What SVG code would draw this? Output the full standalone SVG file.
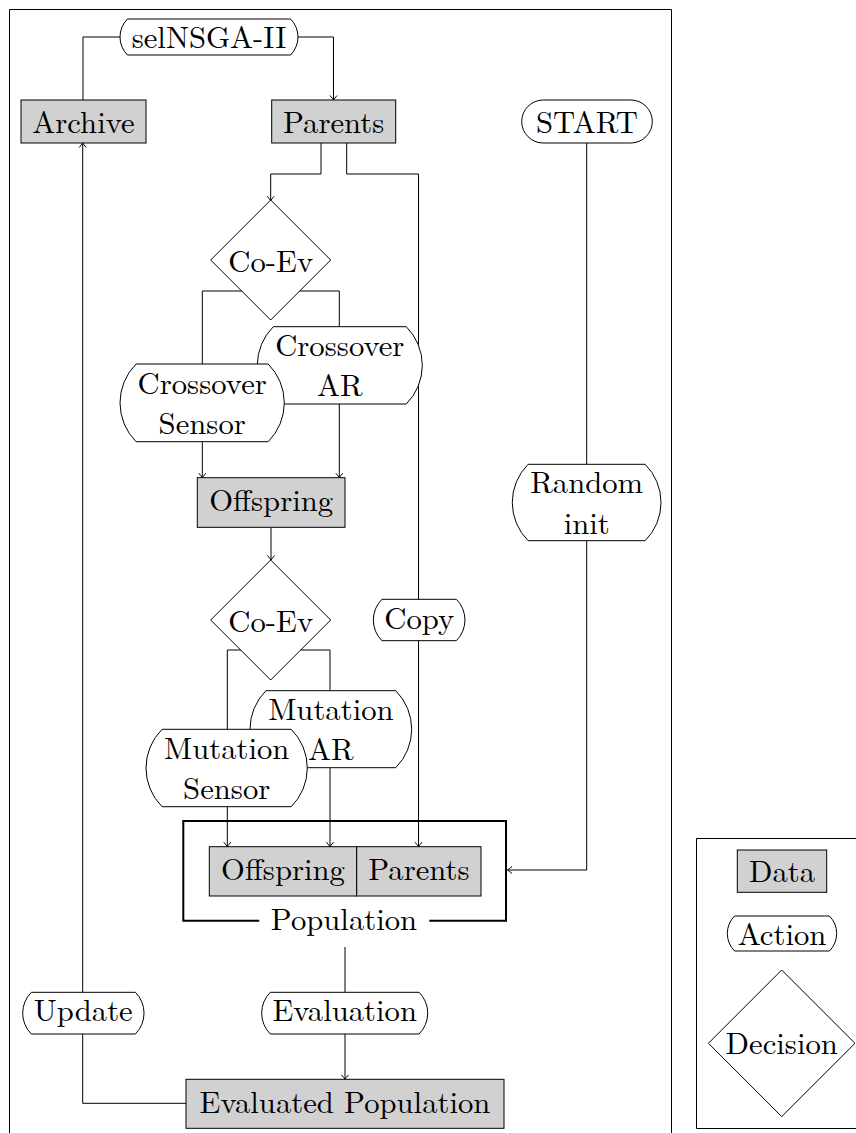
<svg xmlns="http://www.w3.org/2000/svg" width="856" height="1133" viewBox="0 0 856 1133" font-family="Latin Modern Roman, Liberation Serif, serif" font-size="30.7">
<style>
text{fill:#000;text-anchor:middle}
.data{fill:#d1d1d1;stroke:#000;stroke-width:1}
.act{fill:#fff;stroke:#000;stroke-width:1}
.con{fill:none;stroke:#000;stroke-width:1}
.frame{fill:none;stroke:#000;stroke-width:1}
</style>
<defs>
<marker id="arr" viewBox="-6 -5 8 10" markerWidth="8" markerHeight="10" refX="0" refY="0" orient="auto" markerUnits="userSpaceOnUse">
<path d="M-4.5,-3.5 Q-1.5,-1 0,0 Q-1.5,1 -4.5,3.5" fill="none" stroke="#000" stroke-width="1"/>
</marker>
</defs>
<g id="frames">
<path class="frame" d="M9.5,1140 V9.5 H671.5 V1140"/>
<path class="frame" d="M870,838.5 H696.5 V1128.5 H870"/>
</g>
<g id="connectors">
<path class="con" d="M120,37 H83 V100"/>
<path class="con" d="M298,37 H333.5 V100" marker-end="url(#arr)"/>
<path class="con" d="M321,143 V174 H270.7 V200.7" marker-end="url(#arr)"/>
<path class="con" d="M346.7,143 V174 H418.5 V846.7" marker-end="url(#arr)"/>
<path class="con" d="M202.3,364 V291 H339.3 V326.7"/>
<path class="con" d="M202.3,441.7 V477.7" marker-end="url(#arr)"/>
<path class="con" d="M339.3,404 V477.7" marker-end="url(#arr)"/>
<path class="con" d="M271,527.3 V560" marker-end="url(#arr)"/>
<path class="con" d="M227.3,729.3 V650 H330 V690.7"/>
<path class="con" d="M227.3,806.7 V846.7" marker-end="url(#arr)"/>
<path class="con" d="M330,767.7 V846.7" marker-end="url(#arr)"/>
<path class="con" d="M586.7,143 V464.3"/>
<path class="con" d="M586.7,540.7 V870 H507.5" marker-end="url(#arr)"/>
<path class="con" d="M345,947 V992.3"/>
<path class="con" d="M345,1034 V1079.3" marker-end="url(#arr)"/>
<path class="con" d="M186,1103.3 H82.7 V1034"/>
<path class="con" d="M82.7,992.3 V143" marker-end="url(#arr)"/>
</g>
<g id="selNSGA">
<path class="act" d="M127.46,19 H290.54 A25.46 25.46 0 0 1 290.54,55 H127.46 A25.46 25.46 0 0 1 127.46,19 Z"/>
<text x="209" y="48.3">selNSGA-II</text>
</g>
<g id="archive">
<rect class="data" x="21" y="100" width="125" height="43"/>
<text x="83.5" y="133">Archive</text>
</g>
<g id="parents">
<rect class="data" x="271.7" y="100" width="124" height="43"/>
<text x="333.7" y="133">Parents</text>
</g>
<g id="start">
<rect class="act" x="521.7" y="100" width="130.6" height="43" rx="21.5" ry="21.5"/>
<text x="587" y="132.5">START</text>
</g>
<g id="coev1">
<path class="act" d="M270.7,200 L330.7,260 L270.7,320 L210.7,260 Z"/>
<text x="270.7" y="271.5">Co-Ev</text>
</g>
<g id="crossoverAR">
<path class="act" d="M273.3,326.7 H406.3 A54.66 54.66 0 0 1 406.3,404 H273.3 A54.66 54.66 0 0 1 273.3,326.7 Z"/>
<text x="339.8" y="356.3">Crossover</text>
<text x="339.8" y="396.3">AR</text>
</g>
<g id="crossoverSensor">
<path class="act" d="M136.1,364 H268.2 A54.94 54.94 0 0 1 268.2,441.7 H136.1 A54.94 54.94 0 0 1 136.1,364 Z"/>
<text x="202.2" y="394">Crossover</text>
<text x="202.2" y="434">Sensor</text>
</g>
<g id="offspring">
<rect class="data" x="197.3" y="477.7" width="147.7" height="49.6"/>
<text x="271.2" y="511">Offspring</text>
</g>
<g id="randomInit">
<path class="act" d="M528.1,464.3 H645.2 A54.02 54.02 0 0 1 645.2,540.7 H528.1 A54.02 54.02 0 0 1 528.1,464.3 Z"/>
<text x="586.7" y="493">Random</text>
<text x="586.7" y="534">init</text>
</g>
<g id="coev2">
<path class="act" d="M270.7,560 L330.7,620 L270.7,680 L210.7,620 Z"/>
<text x="270.7" y="631.5">Co-Ev</text>
</g>
<g id="copy">
<path class="act" d="M381.9,599.3 H456.4 A29.27 29.27 0 0 1 456.4,640.7 H381.9 A29.27 29.27 0 0 1 381.9,599.3 Z"/>
<text x="419.2" y="628.5">Copy</text>
</g>
<g id="mutationAR">
<path class="act" d="M265.95,690.7 H395.75 A54.45 54.45 0 0 1 395.75,767.7 H265.95 A54.45 54.45 0 0 1 265.95,690.7 Z"/>
<text x="330.9" y="720">Mutation</text>
<text x="330.9" y="760">AR</text>
</g>
<g id="mutationSensor">
<path class="act" d="M162.03,729.3 H291.27 A54.73 54.73 0 0 1 291.27,806.7 H162.03 A54.73 54.73 0 0 1 162.03,729.3 Z"/>
<text x="226.7" y="759">Mutation</text>
<text x="226.7" y="799">Sensor</text>
</g>
<g id="population">
<path fill="none" stroke="#000" stroke-width="2" d="M259.3,920.7 H183.3 V821 H506 V920.7 H429.3"/>
<rect class="data" x="209.3" y="846.7" width="147.4" height="49.3"/>
<text x="283" y="880">Offspring</text>
<rect class="data" x="356.7" y="846.7" width="124.3" height="49.3"/>
<text x="418.9" y="880">Parents</text>
<text x="344" y="930">Population</text>
</g>
<g id="update">
<path class="act" d="M31.3,992.3 H135.4 A29.49 29.49 0 0 1 135.4,1034 H31.3 A29.49 29.49 0 0 1 31.3,992.3 Z"/>
<text x="83.3" y="1021">Update</text>
</g>
<g id="evaluation">
<path class="act" d="M270.3,992.3 H419.1 A29.49 29.49 0 0 1 419.1,1034 H270.3 A29.49 29.49 0 0 1 270.3,992.3 Z"/>
<text x="344.7" y="1021">Evaluation</text>
</g>
<g id="evaluatedPopulation">
<rect class="data" x="186" y="1079.3" width="318" height="49"/>
<text x="345" y="1113">Evaluated Population</text>
</g>
<g id="legendData">
<rect class="data" x="737.3" y="850" width="89.4" height="42.3"/>
<text x="782" y="882.4">Data</text>
</g>
<g id="legendAction">
<path class="act" d="M734.55,916 H829.45 A24.75 24.75 0 0 1 829.45,951 H734.55 A24.75 24.75 0 0 1 734.55,916 Z"/>
<text x="782" y="944.5">Action</text>
</g>
<g id="legendDecision">
<path class="act" d="M781.7,970 L855,1043.3 L781.7,1116.6 L708.4,1043.3 Z"/>
<text x="781.7" y="1054">Decision</text>
</g>
</svg>
